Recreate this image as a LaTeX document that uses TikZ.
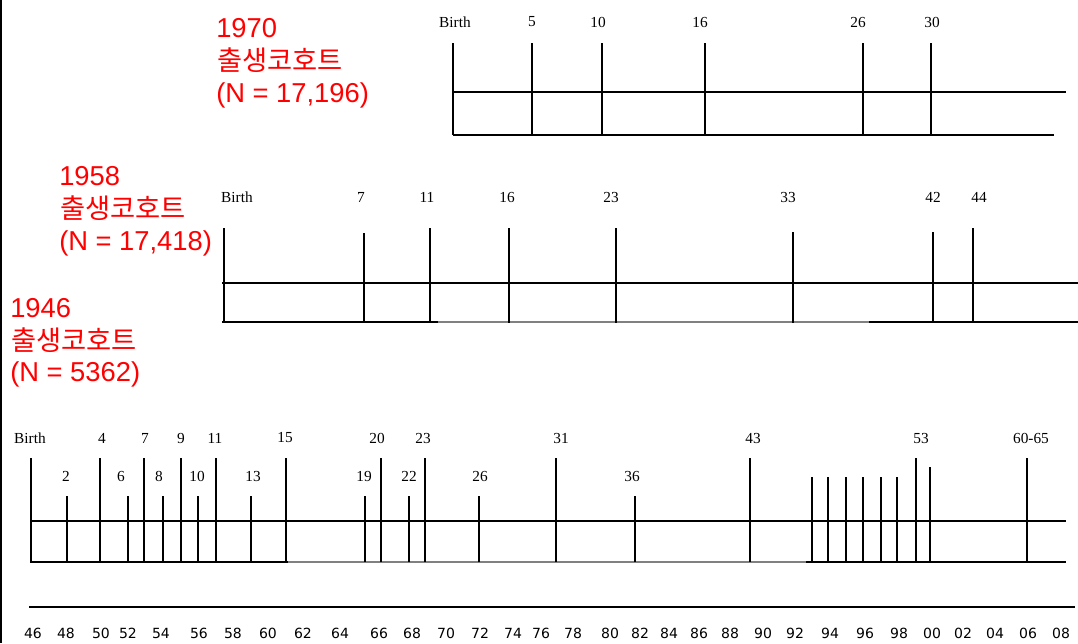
\documentclass[tikz,border=0pt]{standalone}
\usepackage{fontspec}
\setmainfont{Liberation Serif}
\newfontfamily\redsans{Liberation Sans}
\newfontfamily\yearsans{DejaVu Sans}
\newfontfamily\kor{Noto Sans CJK KR}
\usetikzlibrary{positioning}
\colorlet{cohortred}{red}
\colorlet{fadeline}{black!50}
\tikzset{
  cohort/.style={anchor=base west, inner sep=0pt, text=cohortred, font=\redsans\fontsize{20.5}{24}\selectfont},
  agelab/.style={inner sep=0pt, font=\fontsize{11.5}{12}\selectfont},
  yearlab/.style={inner sep=0pt, font=\yearsans\fontsize{10.5}{12}\selectfont},
  tl/.style={line width=1.5pt}
}

\begin{document}
\begin{tikzpicture}[x=0.75pt, y=-0.75pt]
    \useasboundingbox (0,0) rectangle (1078,643);
    \draw[line width=1.5pt] (1,0) -- (1,643);

    % 1970 cohort
    \node[cohort] (c70-year) at (216,37) {1970};
    \node[cohort] (c70-ko) at (217,70) {\kor 출생코호트};
    \node[cohort] (c70-n) at (216,102) {(N = 17,196)};
    \draw[tl] (453,92) -- (1066,92);
    \draw[tl] (453,135) -- (1054,135);
    \foreach \a/\x/\lx in {Birth/453/455, 5/532/532, 10/602/598, 16/705/700, 26/863/858, 30/931/932} {
      \draw[tl] (\x,43) -- (\x,135);
      \node[agelab] (c70-\a) at (\lx,22) {\a};
    }

    % 1958 cohort
    \node[cohort] (c58-year) at (59,185) {1958};
    \node[cohort] (c58-ko) at (60,218) {\kor 출생코호트};
    \node[cohort] (c58-n) at (59,250) {(N = 17,418)};
    \draw[tl] (222,283) -- (1078,283);
    \draw[tl] (222,322) -- (438,322);
    \draw[line width=2pt, fadeline] (438,322) -- (869,322);
    \draw[tl] (869,322) -- (1078,322);
    \foreach \a/\x/\lx/\top in {Birth/224/237/228, 7/364/361/233, 11/430/427/228, 16/509/507/228, 23/616/611/228, 33/793/788/232, 42/933/933/232, 44/973/979/228} {
      \draw[tl] (\x,\top) -- (\x,323);
      \node[agelab] (c58-\a) at (\lx,197) {\a};
    }

    % 1946 cohort
    \node[cohort] (c46-year) at (10,317) {1946};
    \node[cohort] (c46-ko) at (11,350) {\kor 출생코호트};
    \node[cohort] (c46-n) at (10,381) {(N = 5362)};
    \draw[tl] (30,521) -- (1066,521);
    \draw[tl] (30,562) -- (288,562);
    \draw[line width=2pt, fadeline] (288,562) -- (806,562);
    \draw[tl] (806,562) -- (1066,562);
    % long ticks, label above
    \foreach \a/\x/\lx in {Birth/31/30, 4/100/102, 7/144/145, 9/181/181, 11/216/215, 15/286/285, 20/381/377, 23/425/423, 31/556/561, 43/750/753, 53/916/921, 60-65/1027/1031} {
      \draw[tl] (\x,458) -- (\x,562);
      \node[agelab] (c46-\a) at (\lx,438) {\a};
    }
    % short ticks, label in between
    \foreach \a/\x/\lx in {2/67/66, 6/128/121, 8/163/159, 10/198/197, 13/251/253, 19/365/364, 22/409/409, 26/479/480, 36/635/632} {
      \draw[tl] (\x,496) -- (\x,562);
      \node[agelab] (c46-\a) at (\lx,476) {\a};
    }
    % unlabelled waves
    \foreach \x in {812, 828, 846, 863, 881, 897} {
      \draw[tl] (\x,477) -- (\x,562);
    }
    \draw[tl] (930,467) -- (930,562);

    % calendar years
    \draw[tl] (29,607) -- (1075,607);
    \foreach \yr/\x in {46/33, 48/66, 50/101, 52/128, 54/161, 56/199, 58/233, 60/268, 62/303, 64/340, 66/379, 68/412, 70/446, 72/480, 74/513, 76/541, 78/573, 80/610, 82/640, 84/669, 86/699, 88/730, 90/763, 92/795, 94/830, 96/865, 98/899, 00/932, 02/963, 04/995, 06/1028, 08/1061} {
      \node[yearlab] (yr-\yr) at (\x,633) {\yr};
    }
  \end{tikzpicture}
\end{document}
